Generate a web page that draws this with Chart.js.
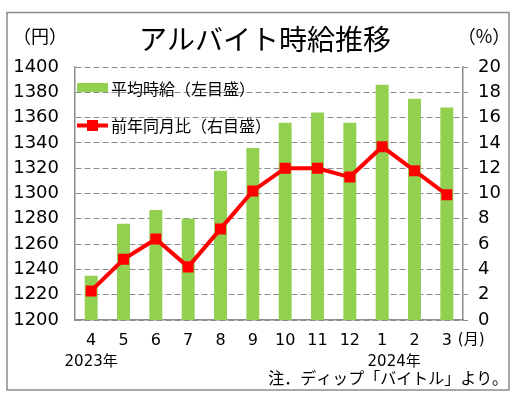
<!DOCTYPE html>
<html><head><meta charset="utf-8">
<script src="https://cdn.jsdelivr.net/npm/chart.js@4"></script>
<style>html,body{margin:0;padding:0;background:#fff}#wrap{width:517px;height:394px;position:relative}</style>
</head><body><div id="wrap"><canvas id="c" width="517" height="394"></canvas></div>
<script>
const months = ['4','5','6','7','8','9','10','11','12','1','2','3'];
const yearLabels = ['2023年','','','','','','','','','2024年','',''];
const wage = [1235,1276,1287,1280,1318,1336,1356,1364,1356,1386,1375,1368];
const yoy = [2.3,4.8,6.4,4.2,7.2,10.2,12.0,12.0,11.3,13.7,11.8,9.9];
const wageRange = [1200,1400];
const wageStep = 20;
const yoyRange = [0,20];
const yoyStep = 2;
const titleText = 'アルバイト時給推移';
const wageLabel = '平均時給（左目盛）';
const yoyLabel = '前年同月比（右目盛）';
const leftUnit = '（円）';
const rightUnit = '（%）';
const monthUnit = '(月)';
const noteText = '注．ディップ「バイトル」より。';

const GREEN = '#92D050', RED = '#FF0000', GRID = '#8c8c8c';
const NUMF = "'DejaVu Sans', 'Noto Sans CJK JP', sans-serif";
const JPF = "'Noto Sans CJK JP', sans-serif";

const decor = {
  id: 'decor',
  beforeDraw(chart) {
    const ctx = chart.ctx;
    ctx.save();
    ctx.fillStyle = '#fff';
    ctx.fillRect(0, 0, chart.width, chart.height);
    ctx.strokeStyle = '#8c8c8c';
    ctx.lineWidth = 1.5;
    ctx.strokeRect(7, 12.5, 502, 377.5);
    ctx.restore();
  },
  afterDraw(chart) {
    const ctx = chart.ctx;
    const ca = chart.chartArea;
    const xs = chart.scales.x;
    ctx.save();
    ctx.fillStyle = '#000';
    ctx.textBaseline = 'middle';
    // units
    ctx.font = "18px " + JPF;
    ctx.textAlign = 'center';
    ctx.fillText(leftUnit, 40, 36);
    ctx.fillText(rightUnit, 484, 36);
    // legend
    const ds = chart.data.datasets;
    const lx = ca.left + 2;
    ctx.font = "16px " + JPF;
    ctx.textAlign = 'left';
    ctx.fillStyle = ds[1].backgroundColor;
    ctx.fillRect(lx, 83, 31, 9);
    ctx.fillStyle = '#000';
    ctx.fillText(ds[1].label, lx + 34, 89);
    ctx.strokeStyle = ds[0].borderColor;
    ctx.lineWidth = 4;
    ctx.beginPath();
    ctx.moveTo(lx, 125.5); ctx.lineTo(lx + 31, 125.5); ctx.stroke();
    ctx.fillStyle = ds[0].pointBackgroundColor;
    ctx.fillRect(lx + 15.5 - 5.5, 125.5 - 5.5, 11, 11);
    ctx.fillStyle = '#000';
    ctx.fillText(ds[0].label, lx + 34, 126);
    // year labels
    ctx.font = "15px " + NUMF;
    ctx.textAlign = 'center';
    yearLabels.forEach((t, i) => {
      if (!t) return;
      const x = xs.getPixelForValue(i) + (i === 0 ? 0 : 12);
      ctx.fillText(t, x, 362);
    });
    // month unit
    ctx.textAlign = 'left';
    ctx.font = "15px " + NUMF;
    ctx.fillText(monthUnit, xs.getPixelForValue(months.length - 1) + 11, 340);
    // note
    ctx.font = "16px " + JPF;
    ctx.textAlign = 'right';
    ctx.fillText(noteText, 508, 378);
    ctx.restore();
  }
};

new Chart(document.getElementById('c'), {
  data: {
    labels: months,
    datasets: [
      {
        type: 'line', label: yoyLabel, data: yoy, yAxisID: 'y1', order: 0,
        borderColor: RED, borderWidth: 4, pointStyle: 'rect', pointRadius: 7.8,
        pointBackgroundColor: RED, pointBorderWidth: 0, pointBorderColor: RED, tension: 0
      },
      {
        type: 'bar', label: wageLabel, data: wage, yAxisID: 'y', order: 1,
        backgroundColor: GREEN, borderWidth: 0,
        categoryPercentage: 1.0, barPercentage: 0.4
      }
    ]
  },
  options: {
    responsive: false, animation: false, devicePixelRatio: 1,
    layout: { padding: { left: 13, right: 0, top: 23, bottom: 0 } },
    plugins: {
      legend: { display: false },
      tooltip: { enabled: false },
      title: {
        display: true, text: titleText, color: '#000',
        font: { family: JPF, size: 28, weight: 'normal' },
        padding: { top: 0, bottom: 10.4 }
      }
    },
    scales: {
      x: {
        offset: true,
        grid: { display: true, drawOnChartArea: false, drawTicks: false },
        border: { display: true, color: GRID, width: 1.5 },
        ticks: { color: '#000', font: { family: NUMF, size: 16 }, padding: 11, maxRotation: 0, autoSkip: false },
        afterFit(s) { s.height = 74; }
      },
      y: {
        position: 'left', min: wageRange[0], max: wageRange[1],
        ticks: { stepSize: wageStep, color: '#000', font: { family: NUMF, size: 18 }, padding: 16,
                 callback: v => String(v) },
        grid: { color: GRID, lineWidth: 1, drawTicks: false },
        border: { display: true, color: GRID, width: 1.5, dash: [6, 3] },
        afterFit(s) { s.width = 62; }
      },
      y1: {
        position: 'right', min: yoyRange[0], max: yoyRange[1],
        ticks: { stepSize: yoyStep, color: '#000', font: { family: NUMF, size: 18 }, padding: 10,
                 callback: v => String(v) },
        grid: { drawOnChartArea: false, drawTicks: true, tickLength: 5, color: GRID },
        border: { display: true, color: GRID, width: 1.5 },
        afterFit(s) { s.width = 54; }
      }
    }
  },
  plugins: [decor]
});
</script></body></html>
